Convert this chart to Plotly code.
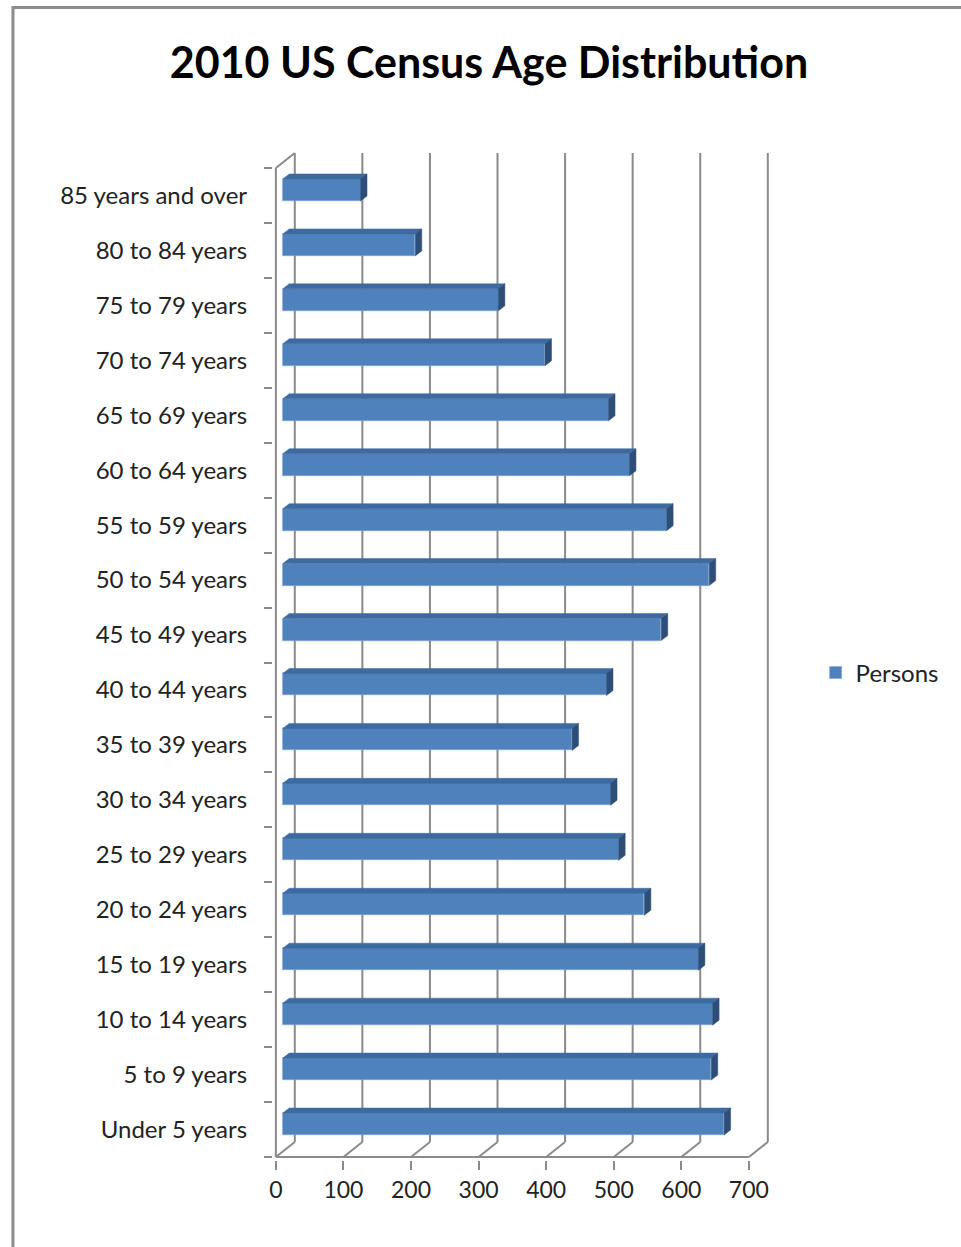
import plotly.graph_objects as go

# ---------------- data ----------------
categories = ["Under 5 years", "5 to 9 years", "10 to 14 years", "15 to 19 years",
              "20 to 24 years", "25 to 29 years", "30 to 34 years", "35 to 39 years",
              "40 to 44 years", "45 to 49 years", "50 to 54 years", "55 to 59 years",
              "60 to 64 years", "65 to 69 years", "70 to 74 years", "75 to 79 years",
              "80 to 84 years", "85 years and over"]
persons = [653, 634, 636, 615, 535, 497, 485, 428, 479, 560,
           631, 568, 513, 482, 388, 319, 196, 115]
x_ticks = [0, 100, 200, 300, 400, 500, 600, 700]
series_name = "Persons"
title_text = "2010 US Census Age Distribution"

# ---------------- geometry (pixels) ----------------
W, H = 961, 1247
PX0 = 273.0              # x=0 on the front axis
SX = 475.0 / 700.0       # px per unit
PY0 = 1157.0             # bottom of front axis (category -0.5)
SY = (1157.0 - 168.0) / len(categories)  # px per category

def xu(px):  # pixel offset -> x units
    return px / SX

def yu(px):
    return px / SY

WDX, WDY = xu(19), yu(15)        # wall depth
BASE = xu(7)                      # bar front-face start
BYOFF = yu(5.5)                   # bar front-face vertical shift
BW = yu(22)                       # bar height
BDX, BDY = xu(6.5), yu(5)         # bar depth

dom_l, dom_r = 270.0, 772.0
dom_t, dom_b = 148.0, 1160.0
x_range = [(dom_l - PX0) / SX, (dom_r - PX0) / SX]
y_range = [-0.5 - (dom_b - PY0) / SY, -0.5 + (PY0 - dom_t) / SY]

n = len(categories)
ypos = [i + BYOFF for i in range(n)]

GRID = "#8a8a8a"
FRONT = "#4F81BD"
TOP = "#3D6A9F"
SIDE = "#2C4E78"

fig = go.Figure()

# front faces
fig.add_trace(go.Bar(
    y=ypos, x=persons, base=BASE, orientation="h", width=BW,
    marker=dict(color=FRONT, line=dict(color="#7FA6D6", width=0.6)),
    name=series_name, showlegend=True, hoverinfo="x",
))

# top and side faces
tx, ty, sx_, sy_ = [], [], [], []
for yc, v in zip(ypos, persons):
    yt = yc + BW / 2
    yb = yc - BW / 2
    x0 = BASE
    x1 = BASE + v
    tx += [x0, x1, x1 + BDX, x0 + BDX, x0, None]
    ty += [yt, yt, yt + BDY, yt + BDY, yt, None]
    sx_ += [x1, x1, x1 + BDX, x1 + BDX, x1, None]
    sy_ += [yb, yt, yt + BDY, yb + BDY, yb, None]

fig.add_trace(go.Scatter(x=tx, y=ty, mode="lines", fill="toself", fillcolor=TOP,
                         line=dict(color=TOP, width=0.5), showlegend=False, hoverinfo="skip"))
fig.add_trace(go.Scatter(x=sx_, y=sy_, mode="lines", fill="toself", fillcolor=SIDE,
                         line=dict(color=SIDE, width=0.5), showlegend=False, hoverinfo="skip"))

# dummy trace for boundary-tick axis
fig.add_trace(go.Scatter(x=[None], y=[None], yaxis="y2", showlegend=False, hoverinfo="skip"))

shapes = []
ybot = -0.5
ytop = n - 0.5
# back wall gridlines + floor diagonals
for t in x_ticks:
    shapes.append(dict(type="line", xref="x", yref="y", x0=t + WDX, x1=t + WDX,
                       y0=ybot + WDY, y1=ytop + WDY, line=dict(color=GRID, width=2), layer="below"))
    shapes.append(dict(type="line", xref="x", yref="y", x0=t, x1=t + WDX,
                       y0=ybot, y1=ybot + WDY, line=dict(color=GRID, width=2), layer="below"))
# top-left diagonal of side wall
shapes.append(dict(type="line", xref="x", yref="y", x0=0, x1=WDX, y0=ytop, y1=ytop + WDY,
                   line=dict(color=GRID, width=2), layer="below"))
# front axes
shapes.append(dict(type="line", xref="x", yref="y", x0=0, x1=0, y0=ybot, y1=ytop,
                   line=dict(color=GRID, width=2)))
shapes.append(dict(type="line", xref="x", yref="y", x0=0, x1=x_ticks[-1], y0=ybot, y1=ybot,
                   line=dict(color=GRID, width=2)))
# outer frame
shapes.append(dict(type="rect", xref="paper", yref="paper", x0=9.0 / W, x1=1.2,
                   y0=-0.2, y1=1 - 7.5 / H, line=dict(color="#8c8c8c", width=3)))

FONT = "Lato"
fig.update_layout(
    width=W, height=H,
    margin=dict(l=0, r=0, t=0, b=0),
    paper_bgcolor="white", plot_bgcolor="rgba(0,0,0,0)",
    title=dict(text="<b>" + title_text + "</b>", x=489 / W, xanchor="center",
               y=1 - 63 / H, yanchor="middle",
               font=dict(family=FONT, size=43, color="#000000")),
    xaxis=dict(domain=[dom_l / W, dom_r / W], range=x_range, tickvals=x_ticks,
               ticktext=[str(t) for t in x_ticks], ticks="outside", ticklen=9,
               tickcolor=GRID, tickwidth=2, showgrid=False, zeroline=False, showline=False,
               tickfont=dict(family=FONT, size=23, color="#222222"), fixedrange=True),
    yaxis=dict(domain=[1 - dom_b / H, 1 - dom_t / H], range=y_range,
               tickvals=list(range(n)), ticktext=categories, ticks="outside", ticklen=20,
               tickcolor="rgba(0,0,0,0)", showgrid=False, zeroline=False, showline=False,
               tickfont=dict(family=FONT, size=24, color="#222222"), fixedrange=True),
    yaxis2=dict(overlaying="y", anchor="x", side="left", range=y_range,
                tickvals=[i - 0.5 for i in range(n + 1)], ticks="outside", ticklen=8,
                tickcolor=GRID, tickwidth=2, showticklabels=False, showgrid=False,
                zeroline=False, showline=False, fixedrange=True),
    legend=dict(x=815 / W, xanchor="left", y=1 - 673 / H, yanchor="middle",
                font=dict(family=FONT, size=24, color="#222222"), bgcolor="rgba(0,0,0,0)"),
    shapes=shapes,
    bargap=0,
)

fig.write_html("out.html")
